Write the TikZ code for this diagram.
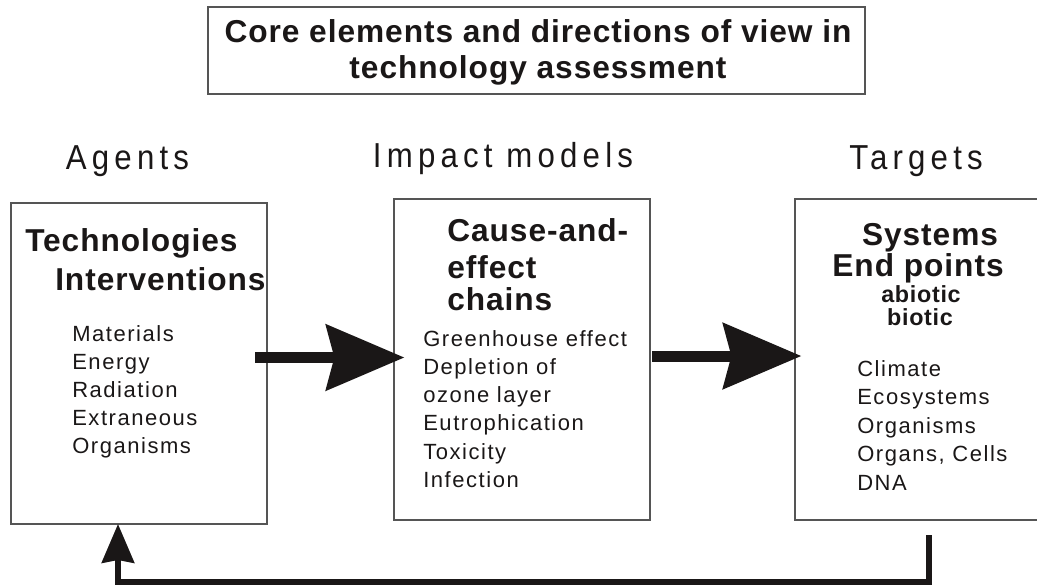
\documentclass[tikz,border=0pt]{standalone}
\usepackage{fontspec}
\setmainfont{Liberation Sans}
\newfontfamily\hdrfont[FakeStretch=0.9,LetterSpace=15]{Liberation Sans}
\newfontfamily\itemfont[LetterSpace=7]{Liberation Sans}
\newfontfamily\headfont[LetterSpace=3]{Liberation Sans}
\usetikzlibrary{arrows.meta,fit}
\definecolor{ink}{HTML}{1A1717}
\definecolor{boxgray}{HTML}{555555}
\begin{document}
\begin{tikzpicture}[x=0.75pt,y=-0.75pt,
  box/.style={draw=boxgray, line width=0.9pt, inner sep=0pt},
  bigarrow/.style={draw=ink, line width=8.25pt, -{Stealth[length=58.5pt, width=48.75pt, inset=6pt]}},
  fbarrow/.style={draw=ink, line width=4.5pt, line join=miter, -{Stealth[length=29pt, width=24pt, inset=2pt]}},
  item/.style={font=\itemfont\fontsize{16.5}{19}\selectfont, text=ink, inner sep=0pt, anchor=base west},
  head/.style={font=\headfont\bfseries\fontsize{23.75}{28}\selectfont, text=ink, inner sep=0pt},
  subhead/.style={font=\headfont\bfseries\fontsize{17.5}{20}\selectfont, text=ink, inner sep=0pt, anchor=base},
  colhdr/.style={font=\hdrfont\fontsize{26}{30}\selectfont, text=ink, inner sep=0pt, anchor=base}]
\path[use as bounding box, clip] (0,0) rectangle (1037,585);
% title
\node[box, fit={(208,7) (865,94)}] (T) {};
\node[head, anchor=base] (T1) at (538,43) {Core elements and directions of view in};
\node[head, anchor=base] (T2) at (538,79) {technology assessment};
% column headers
\node[colhdr] (H1) at (127.5,169) {Agents};
\node[colhdr] (H2) at (503,167) {Impact models};
\node[colhdr] (H3) at (916,169) {Targets};
% boxes
\node[box, fit={(11,203) (267,524)}] (L) {};
\node[box, fit={(394,199) (650,520)}] (M) {};
\node[box, fit={(795,199) (1045,520)}] (R) {};
% left box
\node[head, anchor=base west] (L0a) at (25,251) {Technologies};
\node[head, anchor=base west] (L0b) at (55,290) {Interventions};
\foreach \t [count=\i] in {Materials, Energy, Radiation, Extraneous, Organisms}
  \node[item] (L\i) at (72,{341+28*(\i-1)}) {\t};
% middle box
\node[head, anchor=base west] (M0a) at (447,241) {Cause-and-};
\node[head, anchor=base west] (M0b) at (447,278) {effect};
\node[head, anchor=base west] (M0c) at (447,310) {chains};
\foreach \t [count=\i] in {Greenhouse effect, Depletion of, ozone layer, Eutrophication, Toxicity, Infection}
  \node[item] (M\i) at (423,{346+28.3*(\i-1)}) {\t};
% right box
\node[head, anchor=base] (R0a) at (930,245) {Systems};
\node[head, anchor=base] (R0b) at (918,276) {End points};
\node[subhead] (R0c) at (921,302) {abiotic};
\node[subhead] (R0d) at (920,325) {biotic};
\foreach \t [count=\i] in {Climate, Ecosystems, Organisms, {Organs, Cells}, DNA}
  \node[item] (R\i) at (857,{376+28.5*(\i-1)}) {\t};
% arrows
\coordinate (a1s) at (255,357.5);
\draw[bigarrow] (a1s) -- ([xshift=8.25pt]a1s -| M.west);
\coordinate (a2s) at (652,356);
\draw[bigarrow] (a2s) -- ([xshift=5.25pt]a2s -| R.west);
\coordinate (fbs) at (928.5,535);
\coordinate (fbe) at (118,524);
\draw[fbarrow] (fbs) -- ++(0,47) -| (fbe);
\end{tikzpicture}
\end{document}
